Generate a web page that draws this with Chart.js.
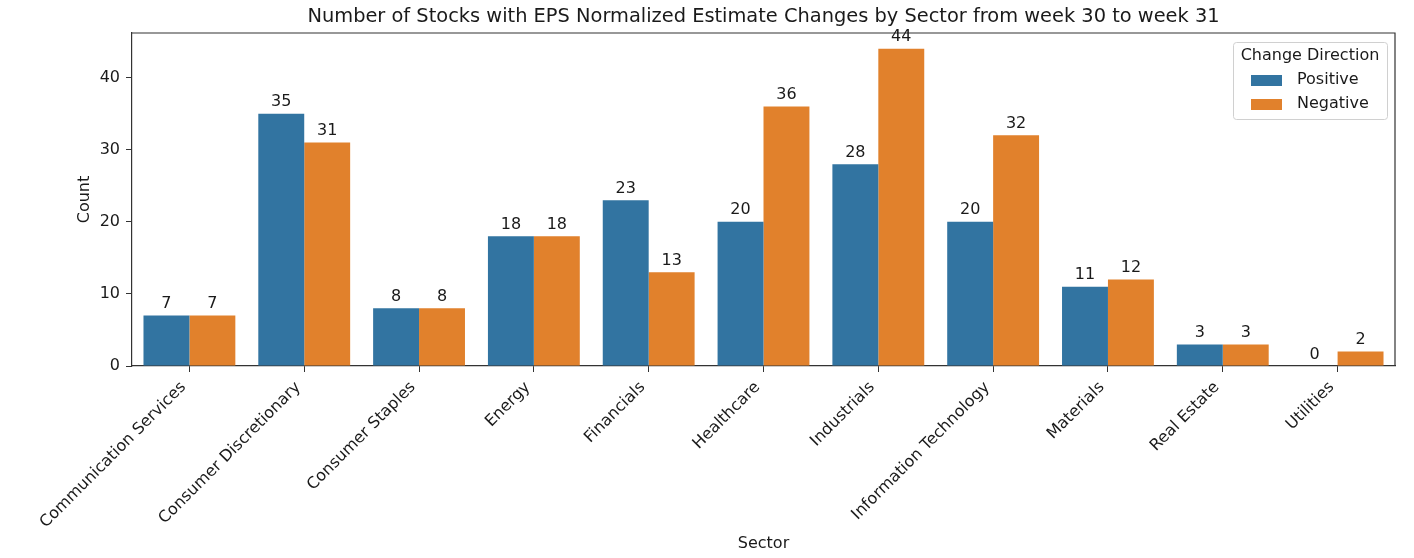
<!DOCTYPE html>
<html>
<head>
<meta charset="utf-8">
<script src="https://cdn.jsdelivr.net/npm/chart.js@4.4.1/dist/chart.umd.min.js"></script>
<style>
  html, body { margin: 0; padding: 0; background: #fff; }
  #wrap { width: 1414px; height: 558px; }
</style>
</head>
<body>
<div id="wrap"><canvas id="chart" width="1414" height="558"></canvas></div>
<script>
  const sectors = [
    'Communication Services', 'Consumer Discretionary', 'Consumer Staples', 'Energy',
    'Financials', 'Healthcare', 'Industrials', 'Information Technology',
    'Materials', 'Real Estate', 'Utilities'
  ];
  const positiveCounts = [7, 35, 8, 18, 23, 20, 28, 20, 11, 3, 0];
  const negativeCounts = [7, 31, 8, 18, 13, 36, 44, 32, 12, 3, 2];
  const yTickValues = [0, 10, 20, 30, 40];
  const yMax = 46.2;

  const TITLE = 'Number of Stocks with EPS Normalized Estimate Changes by Sector from week 30 to week 31';
  const FONT = '"DejaVu Sans", sans-serif';
  const TEXT = '#1a1a1a';
  const SPINE = '#333333';

  // top/right spines, drawn before the value labels so "44" sits over the line
  const spines = {
    id: 'spines',
    beforeDatasetsDraw(chart) {
      const ctx = chart.ctx;
      const a = chart.chartArea;
      ctx.save();
      ctx.strokeStyle = SPINE;
      ctx.lineWidth = 1.2;
      ctx.beginPath();
      ctx.moveTo(a.left, a.top);
      ctx.lineTo(a.right, a.top);
      ctx.lineTo(a.right, a.bottom);
      ctx.stroke();
      ctx.restore();
    },
  };

  // bar value labels, like matplotlib bar_label
  const barLabels = {
    id: 'barLabels',
    afterDatasetsDraw(chart) {
      const ctx = chart.ctx;
      ctx.save();
      ctx.font = '16px ' + FONT;
      ctx.fillStyle = TEXT;
      ctx.textAlign = 'center';
      ctx.textBaseline = 'alphabetic';
      chart.data.datasets.forEach((ds, i) => {
        chart.getDatasetMeta(i).data.forEach((bar, j) => {
          ctx.fillText(String(ds.data[j]), bar.x, bar.y - 7.5);
        });
      });
      ctx.restore();
    },
  };

  // title over the axes, boxed legend inside the plot
  const frame = {
    id: 'frame',
    afterDraw(chart) {
      const ctx = chart.ctx;
      const a = chart.chartArea;
      ctx.save();
      ctx.fillStyle = TEXT;
      ctx.font = '19.4px ' + FONT;
      ctx.textAlign = 'center';
      ctx.textBaseline = 'middle';
      ctx.fillText(TITLE, (a.left + a.right) / 2, 17);

      // legend
      const w = 154, h = 77;
      const x = a.right - 8 - w, y = a.top + 9;
      ctx.fillStyle = 'rgba(255,255,255,0.8)';
      ctx.strokeStyle = '#d0d0d0';
      ctx.lineWidth = 1;
      ctx.beginPath();
      ctx.roundRect(x + 0.5, y + 0.5, w, h, 3);
      ctx.fill();
      ctx.stroke();

      ctx.fillStyle = TEXT;
      ctx.font = '16px ' + FONT;
      ctx.textAlign = 'center';
      ctx.fillText('Change Direction', x + w / 2, y + 14);
      ctx.textAlign = 'left';
      chart.data.datasets.forEach((ds, i) => {
        const ry = y + 38 + i * 24;
        ctx.fillStyle = ds.backgroundColor;
        ctx.fillRect(x + 18, ry - 5, 31, 11);
        ctx.fillStyle = TEXT;
        ctx.fillText(ds.label, x + 64, ry);
      });
      ctx.restore();
    },
  };

  new Chart(document.getElementById('chart'), {
    type: 'bar',
    data: {
      labels: sectors,
      datasets: [
        { label: 'Positive', data: positiveCounts, backgroundColor: '#3274a1' },
        { label: 'Negative', data: negativeCounts, backgroundColor: '#e1812c' },
      ],
    },
    options: {
      responsive: false,
      animation: false,
      devicePixelRatio: 1,
      layout: { padding: { top: 33, right: 19, bottom: 0, left: 0 } },
      datasets: { bar: { categoryPercentage: 0.8, barPercentage: 1.0 } },
      plugins: {
        legend: { display: false },
        tooltip: { enabled: false },
        title: { display: false },
      },
      scales: {
        x: {
          grid: { display: true, offset: false, drawOnChartArea: false, drawTicks: true, tickLength: 6, color: SPINE },
          border: { display: true, color: SPINE, width: 1.2 },
          ticks: {
            color: TEXT, font: { family: FONT, size: 16 },
            maxRotation: 45, minRotation: 45, autoSkip: false, padding: 6, labelOffset: -6,
          },
          title: {
            display: true, text: 'Sector', color: TEXT,
            font: { family: FONT, size: 16 }, padding: { top: 0, bottom: 5 },
          },
          afterFit(scale) { scale.height = 192; },
        },
        y: {
          min: 0,
          max: yMax,
          grid: { display: true, drawOnChartArea: false, drawTicks: true, tickLength: 6, color: SPINE },
          border: { display: true, color: SPINE, width: 1.2 },
          ticks: { color: TEXT, font: { family: FONT, size: 16 }, padding: 6 },
          afterBuildTicks(scale) { scale.ticks = yTickValues.map((v) => ({ value: v })); },
          title: {
            display: true, text: 'Count', color: TEXT,
            font: { family: FONT, size: 16 }, padding: { top: 75, bottom: 0 },
          },
          afterFit(scale) { scale.width = 132; },
        },
      },
    },
    plugins: [spines, barLabels, frame],
  });
</script>
</body>
</html>
